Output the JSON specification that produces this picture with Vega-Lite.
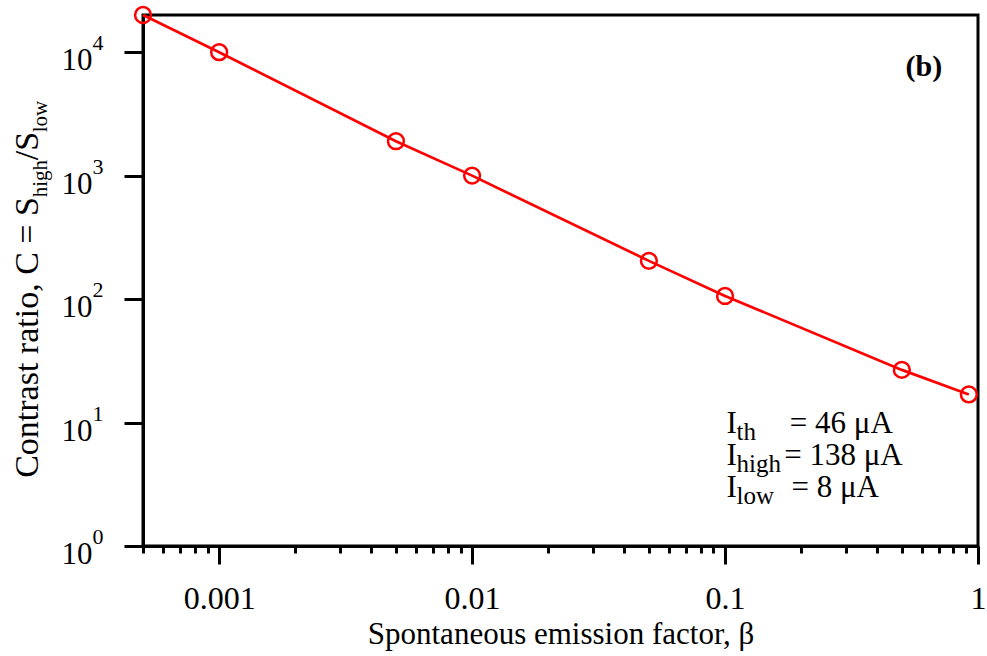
{
  "$schema": "https://vega.github.io/schema/vega-lite/v6.json",
  "autosize": {"type": "none"},
  "padding": {"left": 143, "top": 15, "right": 9, "bottom": 110},
  "width": 835,
  "height": 531,
  "background": "white",
  "config": {"view": {"stroke": "black", "strokeWidth": 3}},
  "encoding": {
    "x": {
      "field": "x", "type": "quantitative",
      "scale": {"type": "log", "domain": [0.0005, 1], "nice": false},
      "axis": {
        "values": [0.0005, 0.0006, 0.0007, 0.0008, 0.0009, 0.001, 0.002, 0.003, 0.004, 0.005, 0.006, 0.007, 0.008, 0.009, 0.01, 0.02, 0.03, 0.04, 0.05, 0.06, 0.07, 0.08, 0.09, 0.1, 0.2, 0.3, 0.4, 0.5, 0.6, 0.7, 0.8, 0.9, 1],
        "labelExpr": "abs(log(datum.value)/LN10 - round(log(datum.value)/LN10)) < 1e-6 ? format(datum.value, '~g') : ''",
        "tickSize": {"condition": {"test": "abs(log(datum.value)/LN10 - round(log(datum.value)/LN10)) < 1e-6", "value": 18}, "value": 7},
        "tickWidth": 3, "tickColor": "black",
        "domainColor": "black", "domainWidth": 3,
        "grid": false,
        "labelFont": "Liberation Serif", "labelFontSize": 32, "labelColor": "black",
        "labelFlush": false, "labelOverlap": false, "labelBound": false,
        "labelBaseline": "alphabetic", "labelPadding": 44,
        "title": "Spontaneous emission factor, β",
        "titleFont": "Liberation Serif", "titleFontSize": 31, "titleFontWeight": "normal",
        "titleColor": "black", "titleBaseline": "alphabetic", "titleY": 97
      }
    },
    "y": {
      "field": "y", "type": "quantitative",
      "scale": {"type": "log", "domain": [1, 20000], "nice": false},
      "axis": {
        "values": [1, 10, 100, 1000, 10000],
        "labels": false,
        "tickSize": 19, "tickWidth": 3, "tickColor": "black",
        "domainColor": "black", "domainWidth": 3,
        "grid": false, "title": null
      }
    }
  },
  "layer": [
    {
      "data": {"values": [
        {"x": 0.0005, "y": 20000},
        {"x": 0.001, "y": 10000},
        {"x": 0.005, "y": 1900},
        {"x": 0.01, "y": 1000},
        {"x": 0.05, "y": 204},
        {"x": 0.1, "y": 106},
        {"x": 0.5, "y": 26.7},
        {"x": 0.92, "y": 16.9}
      ]},
      "layer": [
        {"mark": {"type": "line", "color": "#ff0000", "strokeWidth": 2.7}},
        {"mark": {"type": "point", "shape": "circle", "filled": false, "color": "#ff0000", "strokeWidth": 2.5, "size": 250, "opacity": 1}}
      ]
    },
    {
      "data": {"values": [
        {"x": 0.000316, "y": 1, "e": "0"},
        {"x": 0.000316, "y": 10, "e": "1"},
        {"x": 0.000316, "y": 100, "e": "2"},
        {"x": 0.000316, "y": 1000, "e": "3"},
        {"x": 0.000316, "y": 10000, "e": "4"}
      ]},
      "layer": [
        {"mark": {"type": "text", "text": "10", "align": "right", "baseline": "alphabetic", "dy": 18, "font": "Liberation Serif", "fontSize": 31, "color": "black"}},
        {"mark": {"type": "text", "align": "left", "baseline": "alphabetic", "dy": -2, "font": "Liberation Serif", "fontSize": 22, "color": "black"},
         "encoding": {"text": {"field": "e"}}}
      ]
    },
    {
      "data": {"values": [
        {"x": 0.0001917, "y": 3.565, "t": "Contrast ratio, C = S"},
        {"x": 0.0001917, "y": 1332, "t": "/S"}
      ]},
      "mark": {"type": "text", "angle": 270, "align": "left", "baseline": "alphabetic", "font": "Liberation Serif", "fontSize": 34, "color": "black"},
      "encoding": {"text": {"field": "t"}}
    },
    {
      "data": {"values": [
        {"x": 0.0001917, "y": 668.5, "t": "high"},
        {"x": 0.0001917, "y": 2245, "t": "low"}
      ]},
      "mark": {"type": "text", "angle": 270, "align": "left", "baseline": "alphabetic", "dy": 9, "font": "Liberation Serif", "fontSize": 21, "color": "black"},
      "encoding": {"text": {"field": "t"}}
    },
    {
      "data": {"values": [
        {"x": 0.1014, "y": 8.195, "t": "I"},
        {"x": 0.1014, "y": 4.54, "t": "I"},
        {"x": 0.1014, "y": 2.515, "t": "I"}
      ]},
      "mark": {"type": "text", "align": "left", "baseline": "alphabetic", "font": "Liberation Serif", "fontSize": 31, "color": "black"},
      "encoding": {"text": {"field": "t"}}
    },
    {
      "data": {"values": [
        {"x": 0.111, "y": 8.195, "t": "th"},
        {"x": 0.111, "y": 4.54, "t": "high"},
        {"x": 0.111, "y": 2.515, "t": "low"}
      ]},
      "mark": {"type": "text", "align": "left", "baseline": "alphabetic", "dy": 7, "font": "Liberation Serif", "fontSize": 25, "color": "black"},
      "encoding": {"text": {"field": "t"}}
    },
    {
      "data": {"values": [
        {"x": 0.1804, "y": 8.195, "t": "= 46 μA"},
        {"x": 0.1713, "y": 4.54, "t": "= 138 μA"},
        {"x": 0.1831, "y": 2.515, "t": "= 8 μA"}
      ]},
      "mark": {"type": "text", "align": "left", "baseline": "alphabetic", "font": "Liberation Serif", "fontSize": 31, "color": "black"},
      "encoding": {"text": {"field": "t"}}
    },
    {
      "data": {"values": [{"x": 0.611, "y": 6370, "t": "(b)"}]},
      "mark": {"type": "text", "align": "center", "baseline": "alphabetic", "font": "Liberation Serif", "fontSize": 30, "fontWeight": "bold", "color": "black"},
      "encoding": {"text": {"field": "t"}}
    }
  ]
}
